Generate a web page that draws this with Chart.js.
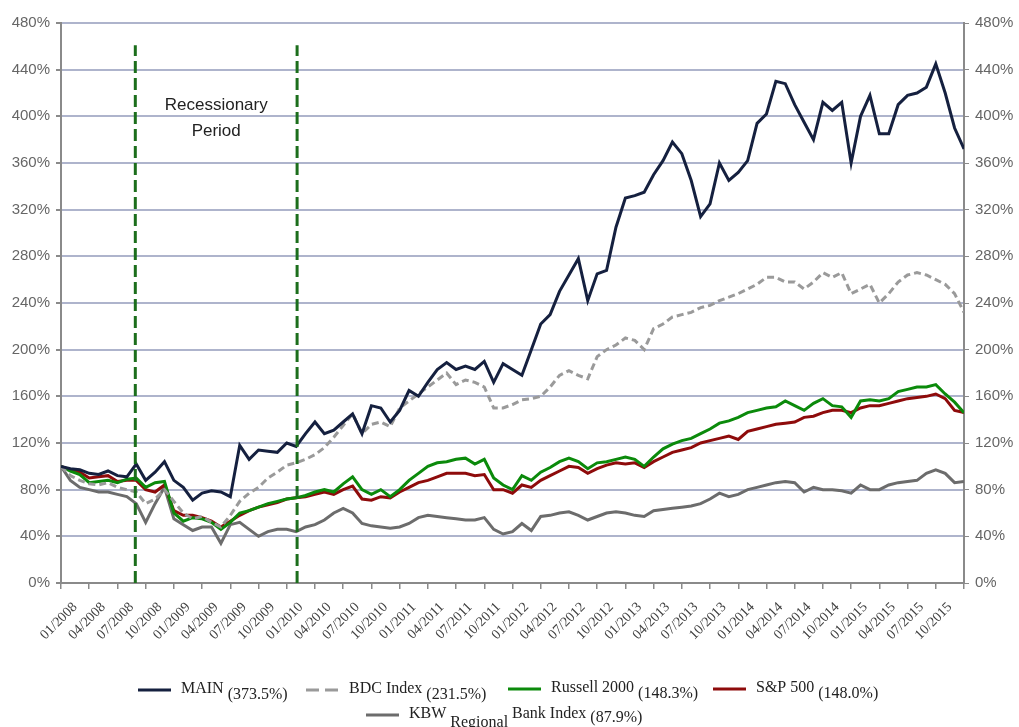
<!DOCTYPE html>
<html>
<head>
<meta charset="utf-8">
<script src="https://cdn.jsdelivr.net/npm/chart.js@4"></script>
<style>
  body { margin: 0; background: #fff; }
  #wrap { position: relative; width: 1019px; height: 727px; }
</style>
</head>
<body>
<div id="wrap"><canvas id="chart"></canvas></div>
<script>
// quarter labels on the x axis
const quarterLabels = [
  '01/2008', '04/2008', '07/2008', '10/2008', '01/2009', '04/2009', '07/2009', '10/2009',
  '01/2010', '04/2010', '07/2010', '10/2010', '01/2011', '04/2011', '07/2011', '10/2011',
  '01/2012', '04/2012', '07/2012', '10/2012', '01/2013', '04/2013', '07/2013', '10/2013',
  '01/2014', '04/2014', '07/2014', '10/2014', '01/2015', '04/2015', '07/2015', '10/2015'
];

// months since 01/2008 (one point per month)
const months = Array.from({ length: 97 }, (_, i) => i);

// total return, % of start value
const mainValues = [
  100, 98, 97, 94, 93, 96, 92, 91, 102, 88, 95, 104, 88, 82, 71, 77, 79, 78, 74, 118,
  106, 114, 113, 112, 120, 117, 128, 138, 128, 131, 138, 145, 128, 152, 150, 138, 148, 165, 160, 172,
  183, 189, 183, 186, 183, 190, 172, 188, 183, 178, 200, 222, 230, 250, 264, 278, 242, 265, 268, 305,
  330, 332, 335, 350, 362, 378, 368, 345, 314, 325, 360, 345, 352, 362, 394, 402, 430, 428, 410, 395,
  380, 412, 405, 412, 360, 400, 418, 385, 385, 410, 418, 420, 425, 445, 420, 390, 372
];
const bdcValues = [
  100, 92, 88, 85, 84, 86, 82, 80, 78, 68, 72, 80, 70, 60, 55, 57, 52, 48, 58, 70,
  77, 82, 90, 95, 101, 103, 106, 110, 116, 125, 135, 145, 128, 136, 138, 134, 150, 156, 162, 168,
  174, 180, 170, 174, 172, 168, 150, 150, 153, 157, 158, 160, 168, 178, 182, 178, 175, 194, 200, 204,
  210, 208, 200, 218, 222, 228, 230, 232, 236, 238, 242, 245, 248, 252, 256, 262, 262, 258, 258, 252,
  258, 266, 262, 266, 248, 252, 256, 240, 248, 258, 264, 266, 264, 260, 256, 248, 232
];
const russellValues = [
  100, 96, 93, 86, 87, 88, 86, 89, 90, 82, 86, 87, 60, 53, 56, 55, 52, 46, 52, 60,
  62, 65, 68, 70, 72, 73, 75, 78, 80, 78, 85, 91, 80, 76, 80, 74, 80, 88, 94, 100,
  103, 104, 106, 107, 102, 106, 90, 84, 80, 92, 88, 95, 99, 104, 107, 104, 98, 103, 104, 106,
  108, 106, 100, 108, 115, 119, 122, 124, 128, 132, 137, 139, 142, 146, 148, 150, 151, 156, 152, 148,
  154, 158, 152, 151, 142, 156, 157, 156, 158, 164, 166, 168, 168, 170, 162, 155, 146
];
const spValues = [
  100, 97, 95, 90, 91, 92, 87, 88, 88, 80, 78, 84, 62, 58, 58, 56, 53, 48, 53, 58,
  62, 65, 67, 69, 72, 73, 74, 76, 78, 76, 80, 83, 72, 71, 74, 73, 78, 82, 86, 88,
  91, 94, 94, 94, 92, 93, 80, 80, 77, 84, 82, 88, 92, 96, 100, 99, 94, 98, 101, 103,
  102, 103, 99, 104, 108, 112, 114, 116, 120, 122, 124, 126, 123, 130, 132, 134, 136, 137, 138, 142,
  143, 146, 148, 148, 146, 150, 152, 152, 154, 156, 158, 159, 160, 162, 158, 148, 146
];
const kbwValues = [
  100, 88, 82, 80, 78, 78, 76, 74, 68, 52, 68, 82, 55, 50, 45, 48, 48, 34, 50, 52,
  46, 40, 44, 46, 46, 44, 48, 50, 54, 60, 64, 60, 51, 49, 48, 47, 48, 51, 56, 58,
  57, 56, 55, 54, 54, 56, 46, 42, 44, 51, 45, 57, 58, 60, 61, 58, 54, 57, 60, 61,
  60, 58, 57, 62, 63, 64, 65, 66, 68, 72, 77, 74, 76, 80, 82, 84, 86, 87, 86, 78,
  82, 80, 80, 79, 77, 84, 80, 80, 84, 86, 87, 88, 94, 97, 94, 86, 87
];

// recession markers (month positions) and their height
const recessionMonths = [7.9, 25.1];
const recessionTop = 461;

const seriesNames = ['MAIN', 'BDC Index', 'Russell 2000', 'S&P 500', 'KBW Regional Bank Index'];
const seriesNotes = ['(373.5%)', '(231.5%)', '(148.3%)', '(148.0%)', '(87.9%)'];
const seriesColors = ['#15203f', '#9a9a9a', '#0b8a0b', '#8e0b0b', '#6c6c6c'];

function toPoints(values) {
  return months.map((m, i) => ({ x: m, y: values[i] }));
}

const allValues = [mainValues, bdcValues, russellValues, spValues, kbwValues];
const datasets = allValues.map((vals, i) => ({
  label: seriesNames[i],
  data: toPoints(vals),
  xAxisID: 'x2',
  yAxisID: 'y',
  borderColor: seriesColors[i],
  borderWidth: 3,
  borderDash: i === 1 ? [7, 4] : [],
  pointRadius: 0,
  tension: 0,
  order: 1
}));

recessionMonths.forEach(m => {
  datasets.push({
    label: 'recession',
    data: [{ x: m, y: 0 }, { x: m, y: recessionTop }],
    xAxisID: 'x2',
    yAxisID: 'y',
    borderColor: '#1c6e1c',
    borderWidth: 3,
    borderDash: [12, 5],
    pointRadius: 0,
    order: 0
  });
});

// text on the chart: annotation + legend with lowered parts
const textPlugin = {
  id: 'textPlugin',
  afterDraw(chart) {
    const ctx = chart.ctx;
    const xs = chart.scales.x2;
    ctx.save();
    ctx.fillStyle = '#222';
    ctx.font = '17px "Liberation Sans", Arial, sans-serif';
    ctx.textAlign = 'center';
    const cx = (xs.getPixelForValue(recessionMonths[0]) + xs.getPixelForValue(recessionMonths[1])) / 2;
    ctx.fillText('Recessionary', cx, 110);
    ctx.fillText('Period', cx, 136);

    // legend
    ctx.textAlign = 'left';
    ctx.font = '16px "Liberation Serif", "Times New Roman", serif';
    const rows = [
      { swatch: 138, i: 0, y: 692, parts: [[seriesNames[0], 0], [seriesNotes[0], 6]] },
      { swatch: 306, i: 1, y: 692, parts: [['BDC Index', 0], [seriesNotes[1], 6]] },
      { swatch: 508, i: 2, y: 691, parts: [[seriesNames[2], 0], [seriesNotes[2], 6]] },
      { swatch: 713, i: 3, y: 691, parts: [[seriesNames[3], 0], [seriesNotes[3], 6]] },
      { swatch: 366, i: 4, y: 717, parts: [['KBW', 0], ['Regional', 9], ['Bank Index', 0], [seriesNotes[4], 4]] }
    ];
    rows.forEach(r => {
      ctx.strokeStyle = seriesColors[r.i];
      ctx.lineWidth = 3;
      ctx.setLineDash(r.i === 1 ? [13, 6] : []);
      ctx.beginPath();
      ctx.moveTo(r.swatch, r.y - 2);
      ctx.lineTo(r.swatch + 33, r.y - 2);
      ctx.stroke();
      ctx.setLineDash([]);
      let x = r.swatch + 43;
      r.parts.forEach(p => {
        ctx.fillText(p[0], x, r.y + 1 + p[1]);
        x += ctx.measureText(p[0]).width + 4;
      });
    });
    ctx.restore();
  }
};

const ctx = document.getElementById('chart').getContext('2d');
new Chart(ctx, {
  type: 'line',
  data: { labels: quarterLabels, datasets: datasets },
  plugins: [textPlugin],
  options: {
    responsive: true,
    maintainAspectRatio: false,
    animation: false,
    layout: { padding: { top: 23, left: 0, right: 0, bottom: 0 } },
    plugins: { legend: { display: false }, tooltip: { enabled: false } },
    scales: {
      x: {
        type: 'category',
        position: 'bottom',
        offset: true,
        border: { color: '#8a8a8a', width: 2 },
        grid: { offset: true, drawOnChartArea: false, color: '#8a8a8a', lineWidth: 1.5, tickLength: 6 },
        ticks: {
          autoSkip: false,
          minRotation: 45,
          maxRotation: 45,
          padding: 10,
          color: '#404040',
          font: { family: '"Liberation Serif", "Times New Roman", serif', size: 14 }
        },
        afterFit(scale) { scale.height = 144; }
      },
      x2: { type: 'linear', min: 0, max: 96, display: false },
      y: {
        position: 'left',
        min: 0,
        max: 480,
        border: { color: '#8a8a8a', width: 2 },
        grid: { color: '#aeb4cc', lineWidth: 2, tickColor: '#8a8a8a', tickLength: 5 },
        ticks: {
          stepSize: 40,
          padding: 6,
          color: '#666',
          font: { family: '"Liberation Sans", Arial, sans-serif', size: 15 },
          callback: v => v + '%'
        },
        afterFit(scale) { scale.width = 61; }
      },
      y2: {
        position: 'right',
        min: 0,
        max: 480,
        border: { color: '#8a8a8a', width: 2 },
        grid: { drawOnChartArea: false, tickColor: '#8a8a8a', tickLength: 5 },
        ticks: {
          stepSize: 40,
          padding: 6,
          color: '#666',
          font: { family: '"Liberation Sans", Arial, sans-serif', size: 15 },
          callback: v => v + '%'
        },
        afterFit(scale) { scale.width = 55; }
      }
    }
  }
});
</script>
</body>
</html>
